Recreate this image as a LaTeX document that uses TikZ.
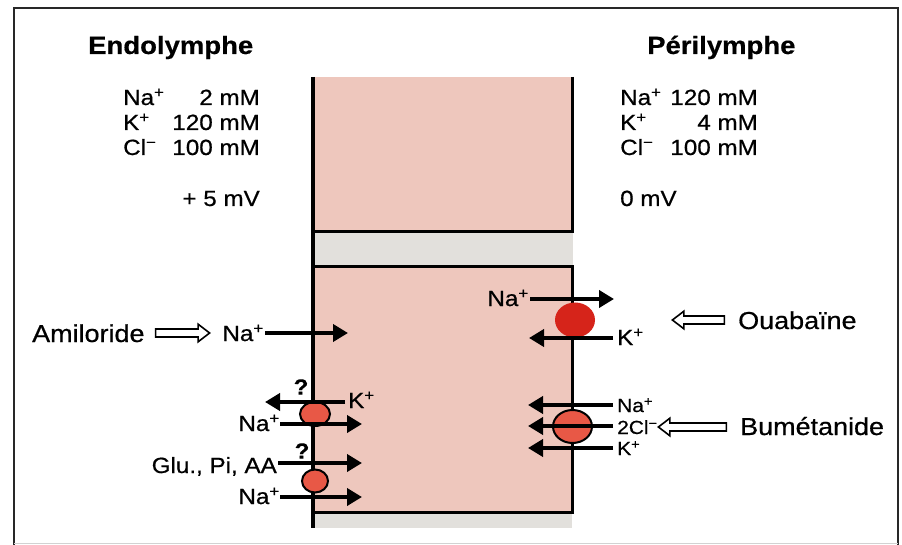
\documentclass[tikz,border=0pt]{standalone}
\usepackage{fontspec}
\setmainfont{Liberation Sans}[FakeStretch=1.1, FakeBold=0.6, BoldFeatures={FakeBold=0.4}]
\usetikzlibrary{arrows.meta,shapes.geometric,shapes.arrows}
\definecolor{cellpink}{RGB}{238,199,189}
\definecolor{bandgray}{RGB}{226,224,220}
\definecolor{pumpred}{RGB}{214,36,26}
\definecolor{cotred}{RGB}{232,88,70}
\definecolor{framegray}{RGB}{40,40,40}
\begin{document}
\begin{tikzpicture}[x=1pt,y=-1pt,
  lbl/.style={inner sep=0pt, font=\fontsize{22}{24}\selectfont},
  drug/.style={inner sep=0pt, font=\fontsize{24.5}{26}\selectfont},
  ttl/.style={inner sep=0pt, font=\fontsize{25}{27}\selectfont\bfseries},
  small/.style={inner sep=0pt, font=\fontsize{19}{21}\selectfont},
  qmark/.style={inner sep=0pt, font=\fontsize{22}{24}\selectfont\bfseries},
  flux/.style={line width=4pt, -{Triangle[length=15pt,width=17pt]}},
  wall/.style={line width=3pt},
  hollow/.style={single arrow, draw, line width=1.6pt, fill=white, inner sep=3.2pt,
    single arrow head extend=4.8pt, single arrow tip angle=75, minimum height=#1},
  hollow/.default=54pt,
  carrier/.style={ellipse, draw, line width=2pt, fill=cotred, inner sep=0pt},
]
\fill[white] (0,0) rectangle (902,545);
\useasboundingbox (0,0) rectangle (902,545);
% outer frame
\draw[framegray, line width=2pt] (14,545) -- (14,8) -- (898,8) -- (898,545);
\draw[gray!35, line width=1pt] (14,543) -- (898,543);

% cell
\fill[cellpink] (313,77) rectangle (572,232);
\fill[bandgray] (313,232) rectangle (573,267);
\fill[cellpink] (313,267) rectangle (572,512);
\fill[bandgray] (313,512) rectangle (572,528);
\draw[wall] (572,77) -- (572,232) -- (313,232);
\draw[wall] (313,267) -- (572,267) -- (572,512) -- (313,512);
\draw[line width=4pt] (313,77) -- (313,528);

% titles and concentrations
\node[ttl, anchor=base west] (endo) at (88,54) {Endolymphe};
\node[ttl, anchor=base west] (peri) at (647,54) {Périlymphe};

\node[lbl, anchor=base west] (eNa) at (123,105) {Na\textsuperscript{+}};
\node[lbl, anchor=base east] (eNav) at (260,105) {2 mM};
\node[lbl, anchor=base west] (eK) at (123,130) {K\textsuperscript{+}};
\node[lbl, anchor=base east] (eKv) at (260,130) {120 mM};
\node[lbl, anchor=base west] (eCl) at (123,155) {Cl\textsuperscript{−}};
\node[lbl, anchor=base east] (eClv) at (260,155) {100 mM};
\node[lbl, anchor=base east] (emv) at (260,206) {+ 5 mV};

\node[lbl, anchor=base west] (pNa) at (620,105) {Na\textsuperscript{+}};
\node[lbl, anchor=base east] (pNav) at (758,105) {120 mM};
\node[lbl, anchor=base west] (pK) at (620,130) {K\textsuperscript{+}};
\node[lbl, anchor=base east] (pKv) at (758,130) {4 mM};
\node[lbl, anchor=base west] (pCl) at (620,155) {Cl\textsuperscript{−}};
\node[lbl, anchor=base east] (pClv) at (758,155) {100 mM};
\node[lbl, anchor=base west] (pmv) at (620,206) {0 mV};

% carriers
\node[carrier, minimum width=30pt, minimum height=24pt] (t1) at (315,414) {};
\node[carrier, minimum width=26pt, minimum height=23pt] (t2) at (315,481) {};
\node[ellipse, fill=pumpred, minimum width=40pt, minimum height=35pt, inner sep=0pt] (pump) at (575,320) {};
\node[carrier, minimum width=39pt, minimum height=33pt] (cot) at (572.5,426.5) {};

% Amiloride / Na channel
\node[drug, anchor=base west] (amil) at (32,342) {Amiloride};
\node[hollow=54pt] (h1) at (180,333) {};
\node[lbl, anchor=base east] (na1) at (264,341) {Na\textsuperscript{+}};
\coordinate (na1s) at (265,333);
\coordinate (na1e) at (348,333);
\draw[flux] (na1s) -- (na1e);

% K / Na exchanger
\node[qmark] (q1) at (301,387) {?};
\coordinate (k1s) at (345,402);
\coordinate (k1e) at (265,402);
\draw[flux] (k1s) -- (k1e);
\node[lbl, anchor=base west] (k1) at (348,408) {K\textsuperscript{+}};
\node[lbl, anchor=base east] (na2) at (280,431) {Na\textsuperscript{+}};
\coordinate (na2s) at (280,424);
\coordinate (na2e) at (362,424);
\draw[flux] (na2s) -- (na2e);

% Glu, Pi, AA / Na cotransport
\node[qmark] (q2) at (302,451) {?};
\node[lbl, anchor=base east] (glu) at (277,473) {Glu., Pi, AA};
\coordinate (glus) at (278,463);
\coordinate (glue) at (362,463);
\draw[flux] (glus) -- (glue);
\node[lbl, anchor=base east] (na3) at (280,504) {Na\textsuperscript{+}};
\coordinate (na3s) at (280,497);
\coordinate (na3e) at (362,497);
\draw[flux] (na3s) -- (na3e);

% Na/K pump
\node[lbl, anchor=base east] (na4) at (529,306) {Na\textsuperscript{+}};
\coordinate (na4s) at (530,299);
\coordinate (na4e) at (614,299);
\draw[flux] (na4s) -- (na4e);
\coordinate (k4s) at (613,338);
\coordinate (k4e) at (529,338);
\draw[flux] (k4s) -- (k4e);
\node[lbl, anchor=base west] (k4) at (617,345) {K\textsuperscript{+}};
\node[hollow=52pt, shape border rotate=180] (h2) at (701,320) {};
\node[drug, anchor=base west] (ouab) at (738,329) {Ouabaïne};

% Na-K-2Cl cotransporter
\coordinate (c1s) at (613,405);
\coordinate (c1e) at (528,405);
\coordinate (c2s) at (613,426);
\coordinate (c2e) at (528,426);
\coordinate (c3s) at (613,448);
\coordinate (c3e) at (528,448);
\draw[flux] (c1s) -- (c1e);
\draw[flux] (c2s) -- (c2e);
\draw[flux] (c3s) -- (c3e);
\node[small, anchor=base west] (cna) at (617,412) {Na\textsuperscript{+}};
\node[small, anchor=base west] (ccl) at (617,434) {2Cl\textsuperscript{−}};
\node[small, anchor=base west] (ck) at (617,455) {K\textsuperscript{+}};
\node[hollow=68pt, shape border rotate=180] (h3) at (695,427) {};
\node[drug, anchor=base west] (bume) at (740,435) {Bumétanide};
\end{tikzpicture}
\end{document}
